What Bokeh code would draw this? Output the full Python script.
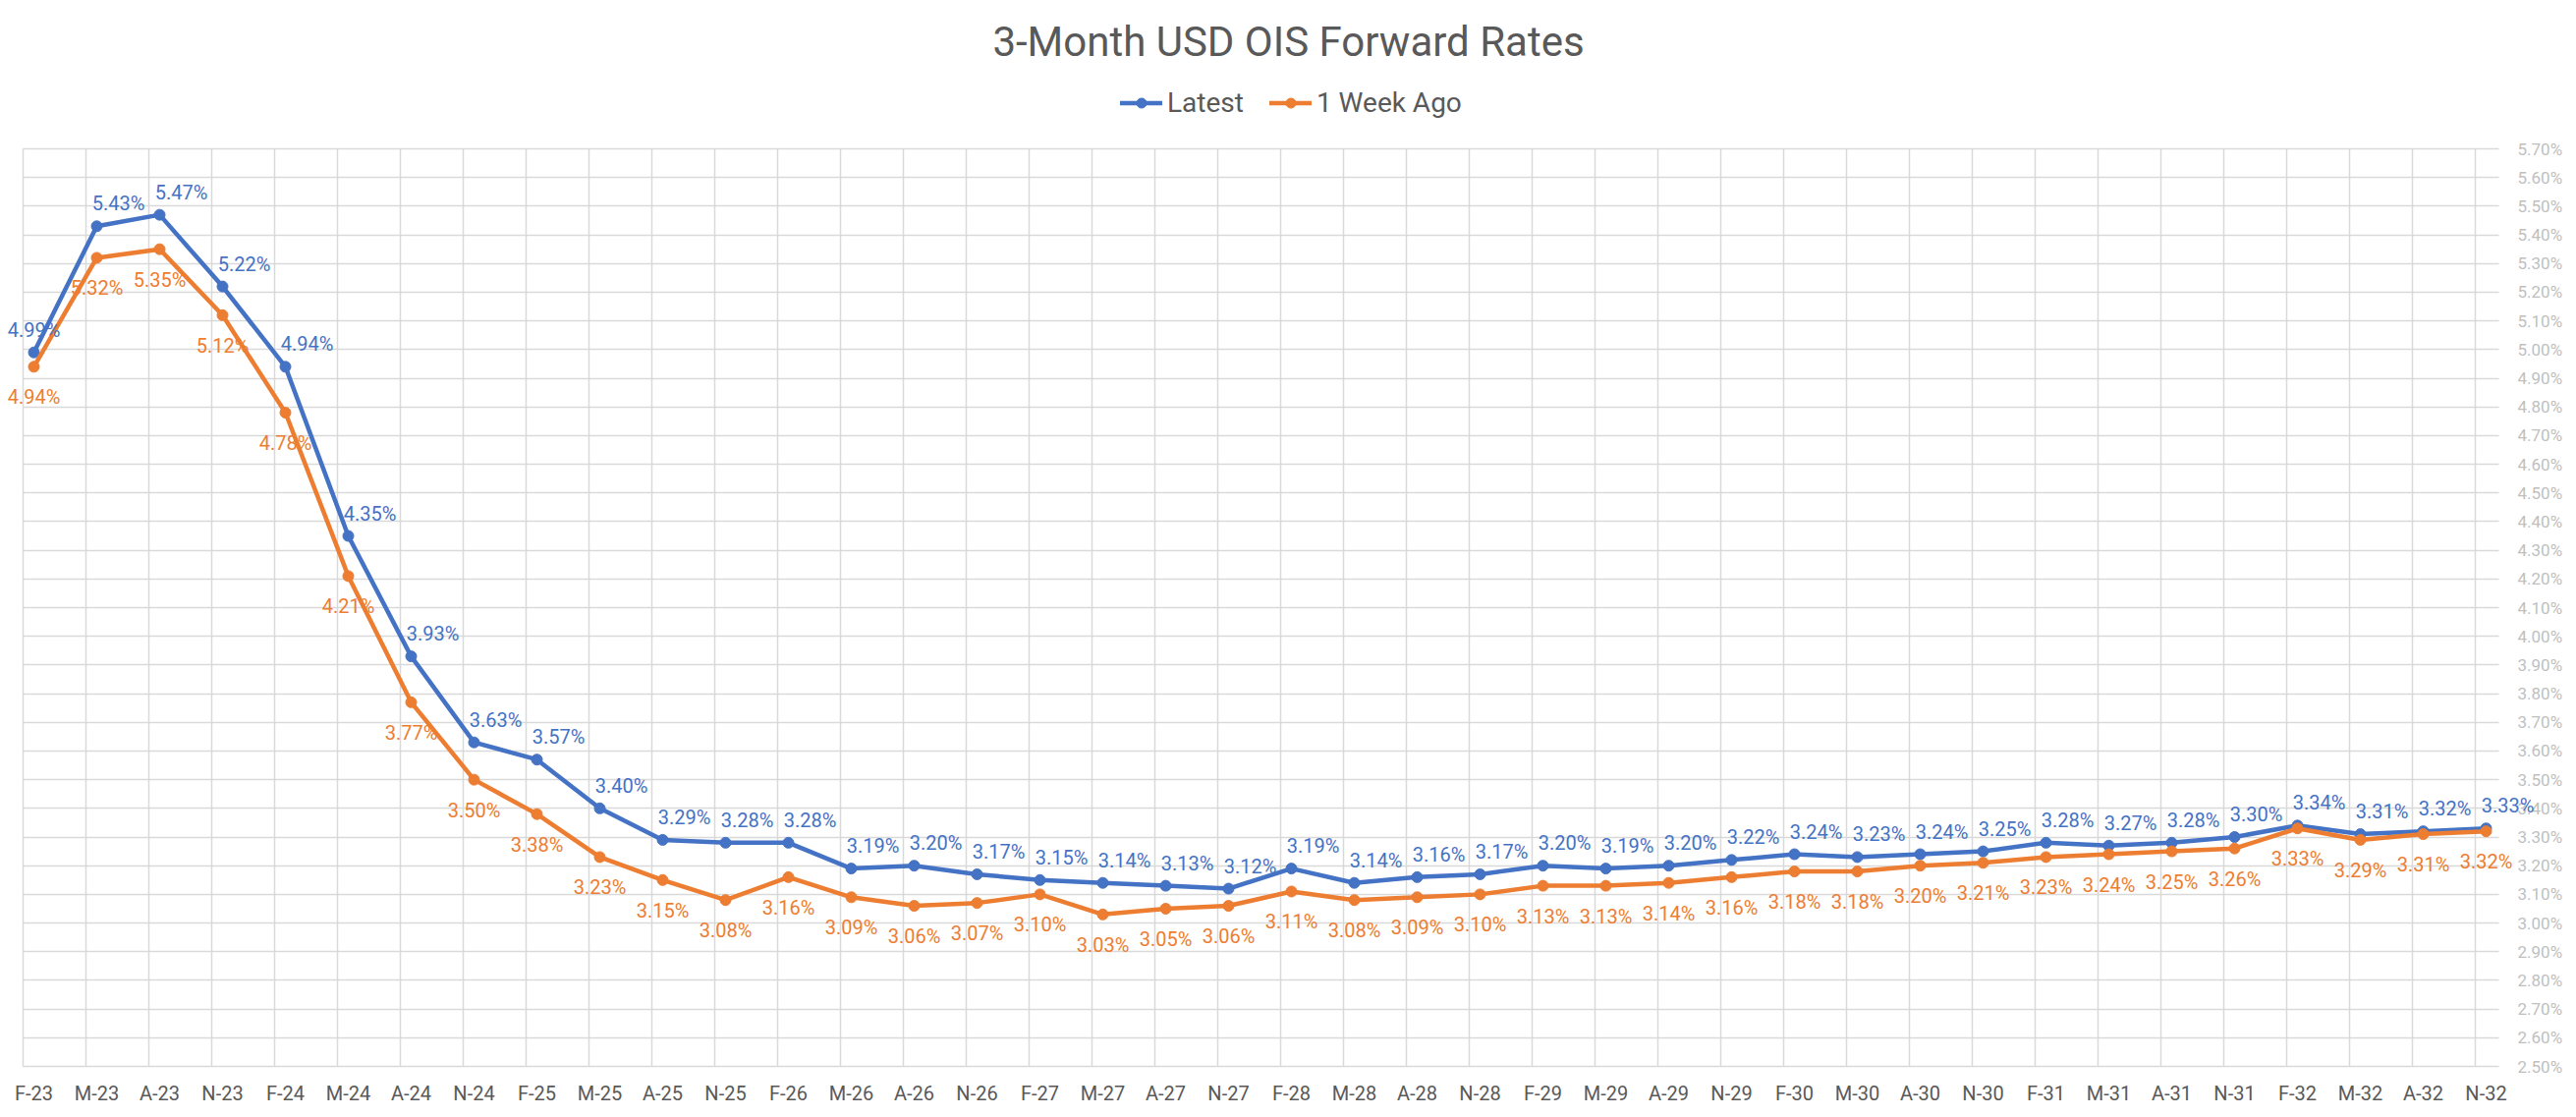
import numpy as np
from bokeh.plotting import figure
from bokeh.models import (ColumnDataSource, Range1d, FixedTicker, PrintfTickFormatter,
                          LabelSet, Label, Legend, LegendItem, Grid)
from bokeh.core.properties import value
from bokeh.embed import file_html
from bokeh.resources import INLINE

# Quarterly forward start dates
tenors = ["F-23", "M-23", "A-23", "N-23", "F-24", "M-24", "A-24", "N-24",
          "F-25", "M-25", "A-25", "N-25", "F-26", "M-26", "A-26", "N-26",
          "F-27", "M-27", "A-27", "N-27", "F-28", "M-28", "A-28", "N-28",
          "F-29", "M-29", "A-29", "N-29", "F-30", "M-30", "A-30", "N-30",
          "F-31", "M-31", "A-31", "N-31", "F-32", "M-32", "A-32", "N-32"]

# 3M OIS forward rates, in percent
latest = [4.99, 5.43, 5.47, 5.22, 4.94, 4.35, 3.93, 3.63, 3.57, 3.40,
          3.29, 3.28, 3.28, 3.19, 3.20, 3.17, 3.15, 3.14, 3.13, 3.12,
          3.19, 3.14, 3.16, 3.17, 3.20, 3.19, 3.20, 3.22, 3.24, 3.23,
          3.24, 3.25, 3.28, 3.27, 3.28, 3.30, 3.34, 3.31, 3.32, 3.33]

week_ago = [4.94, 5.32, 5.35, 5.12, 4.78, 4.21, 3.77, 3.50, 3.38, 3.23,
            3.15, 3.08, 3.16, 3.09, 3.06, 3.07, 3.10, 3.03, 3.05, 3.06,
            3.11, 3.08, 3.09, 3.10, 3.13, 3.13, 3.14, 3.16, 3.18, 3.18,
            3.20, 3.21, 3.23, 3.24, 3.25, 3.26, 3.33, 3.29, 3.31, 3.32]

y_ticks = [round(2.5 + 0.1 * k, 2) for k in range(33)]

FONT = "Roboto"
BLUE = "#4472C4"
ORANGE = "#ED7D31"
GRID = "#D9D9D9"
DARK = "#595959"
LIGHT = "#BFBFBF"

W, H = 2622, 1137

# canvas geometry (pixels): the frame covers the whole canvas above the
# category axis so titles and edge labels are not clipped
FRAME_RIGHT = 2600
FRAME_BOTTOM = 1087
PX_PER_X = 64.0                 # pixels per quarter
X0_PX = 34.0                    # pixel of the first point
PLOT_TOP_PX, PLOT_BOT_PX = 151.0, 1085.0
PLOT_RIGHT_PX = 2543.0
Y_MIN, Y_MAX = y_ticks[0], y_ticks[-1]
PX_PER_Y = (PLOT_BOT_PX - PLOT_TOP_PX) / (Y_MAX - Y_MIN)


def px_to_x(px):
    return (px - X0_PX) / PX_PER_X


def py_to_y(py):
    return Y_MIN + (PLOT_BOT_PX - py) / PX_PER_Y


X_LO, X_HI = px_to_x(0), px_to_x(FRAME_RIGHT)
Y_LO, Y_HI = py_to_y(FRAME_BOTTOM), py_to_y(0)

GRID_SHIFT = 11.0 / PX_PER_X   # grid lines sit a little before each period's point
GX_LO, GX_HI = -GRID_SHIFT, px_to_x(PLOT_RIGHT_PX)

x = list(range(len(tenors)))

p = figure(width=W, height=H, output_backend="svg", toolbar_location=None,
           x_range=Range1d(X_LO, X_HI), y_range=Range1d(Y_LO, Y_HI),
           y_axis_location="right",
           min_border_left=0, min_border_right=W - FRAME_RIGHT,
           min_border_top=0, min_border_bottom=H - FRAME_BOTTOM)
p.outline_line_color = None
p.background_fill_color = "white"
p.border_fill_color = "white"

# grids, limited to the plotting rectangle
p.xgrid.visible = False
p.ygrid.visible = False
x_grid_ticks = [i - GRID_SHIFT for i in x]
if "cross_bounds" in Grid.properties():
    p.add_layout(Grid(dimension=0, ticker=FixedTicker(ticks=x_grid_ticks),
                      cross_bounds=(Y_MIN, Y_MAX), bounds=(GX_LO - 1, GX_HI),
                      grid_line_color=GRID, grid_line_width=1.5))
    p.add_layout(Grid(dimension=1, ticker=FixedTicker(ticks=y_ticks),
                      cross_bounds=(GX_LO, GX_HI),
                      grid_line_color=GRID, grid_line_width=1.5))
else:
    p.segment(x0=x_grid_ticks, x1=x_grid_ticks, y0=Y_MIN, y1=Y_MAX,
              line_color=GRID, line_width=1.5)
    p.segment(x0=GX_LO, x1=GX_HI, y0=y_ticks, y1=y_ticks,
              line_color=GRID, line_width=1.5)

# bottom axis
xa = p.xaxis[0]
xa.ticker = FixedTicker(ticks=x)
xa.major_label_overrides = {i: t for i, t in enumerate(tenors)}
xa.axis_line_color = None
xa.major_tick_line_color = None
xa.minor_tick_line_color = None
xa.major_tick_out = 0
xa.major_label_standoff = 13
xa.major_label_text_font = FONT
xa.major_label_text_font_size = "20px"
xa.major_label_text_color = DARK

# right axis, labels pulled back next to the plotting rectangle
ya = p.yaxis[0]
ya.ticker = FixedTicker(ticks=y_ticks)
ya.formatter = PrintfTickFormatter(format="%.2f%%")
ya.axis_line_color = None
ya.major_tick_line_color = None
ya.minor_tick_line_color = None
ya.major_tick_out = 0
ya.major_tick_in = 0
ya.major_label_standoff = int(2562 - FRAME_RIGHT)
ya.major_label_text_font = FONT
ya.major_label_text_font_size = "17px"
ya.major_label_text_color = LIGHT

# series
l1 = p.line(x, latest, line_width=4.5, color=BLUE, line_join="round", line_cap="round")
s1 = p.scatter(x, latest, size=11, color=BLUE)
l2 = p.line(x, week_ago, line_width=4.5, color=ORANGE, line_join="round", line_cap="round")
s2 = p.scatter(x, week_ago, size=11, color=ORANGE)

# value labels
blue_src = ColumnDataSource(dict(
    x=x, y=latest, text=[f"{v:.2f}%" for v in latest],
    dx=[0] + [22] * (len(x) - 1)))
orange_src = ColumnDataSource(dict(
    x=x, y=week_ago, text=[f"{v:.2f}%" for v in week_ago]))

p.add_layout(LabelSet(x="x", y="y", text="text", source=blue_src,
                      x_offset="dx", y_offset=23,
                      text_align="center", text_baseline="middle",
                      text_font=value(FONT), text_font_size="20px",
                      text_color=BLUE))
p.add_layout(LabelSet(x="x", y="y", text="text", source=orange_src,
                      x_offset=0, y_offset=-31,
                      text_align="center", text_baseline="middle",
                      text_font=value(FONT), text_font_size="20px",
                      text_color=ORANGE))

# title
p.add_layout(Label(x=px_to_x(W / 2), y=py_to_y(42),
                   text="3-Month USD OIS Forward Rates",
                   text_align="center", text_baseline="middle",
                   text_font=FONT, text_font_size="42px", text_color=DARK))

# legend
legend = Legend(items=[LegendItem(label="Latest", renderers=[l1, s1]),
                       LegendItem(label="1 Week Ago", renderers=[l2, s2])],
                orientation="horizontal",
                location=(1140, FRAME_BOTTOM - 121),
                label_text_font=FONT, label_text_font_size="28px",
                label_text_color=DARK,
                glyph_width=43, glyph_height=25, label_standoff=5, spacing=26,
                padding=0, margin=0, border_line_color=None,
                background_fill_alpha=0)
p.add_layout(legend)

open("out.html", "w").write(file_html(p, INLINE))
